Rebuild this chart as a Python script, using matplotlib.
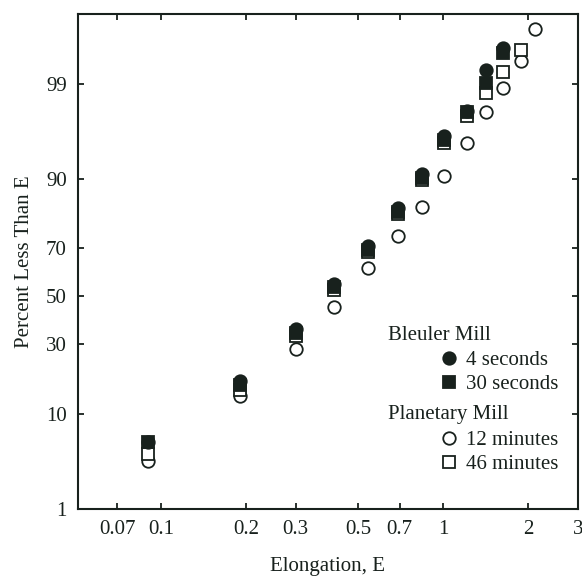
import numpy as np
import matplotlib
matplotlib.use("Agg")
import matplotlib.pyplot as plt
from matplotlib.ticker import FixedLocator, FixedFormatter, NullLocator
from statistics import NormalDist

# Elongation bins (E) and cumulative percent less than E for each grind
elongation = [0.09, 0.19, 0.30, 0.41, 0.54, 0.69, 0.84, 1.01, 1.21, 1.42, 1.63, 1.89, 2.12]
bleuler_4s = [5.6, 17.7, 36.0, 55.6, 71.1, 83.4, 91.0, 96.0, 97.9, 99.34, 99.67]
bleuler_30s = [5.5, 16.6, 34.3, 53.9, 69.6, 82.3, 90.3, 95.7, 97.8, 99.03, 99.61]
planetary_12m = [3.6, 13.7, 28.1, 45.2, 62.4, 74.4, 83.7, 90.7, 95.3, 97.8, 98.88, 99.50, 99.83]
planetary_46m = [4.2, 15.2, 33.1, 53.0, 68.8, 81.5, 89.9, 95.3, 97.6, 98.70, 99.30, 99.65]

x_ticks = [0.07, 0.1, 0.2, 0.3, 0.5, 0.7, 1, 2, 3]
x_ticklabels = ["0.07", "0.1", "0.2", "0.3", "0.5", "0.7", "1", "2", "3"]
y_ticks = [1, 10, 30, 50, 70, 90, 99]
y_ticklabels = ["1", "10", "30", "50", "70", "90", "99"]

INK = "#18211d"
FONT = "Liberation Serif"
FS = 15

_nd = NormalDist()
_ppf = np.vectorize(_nd.inv_cdf, otypes=[float])
_cdf = np.vectorize(_nd.cdf, otypes=[float])


def probit(p):
    """Percent -> standard normal quantile (probability paper)."""
    q = np.clip(np.asarray(p, dtype=float) / 100.0, 1e-9, 1 - 1e-9)
    return _ppf(q)


def inv_probit(z):
    return _cdf(np.asarray(z, dtype=float)) * 100.0


plt.rcParams["font.family"] = [FONT, "DejaVu Serif"]

fig = plt.figure(figsize=(5.82, 5.76), dpi=100)
ax = fig.add_axes([0.134, 0.1163, 0.859, 0.8594])

ax.set_xscale("log")
ax.set_yscale("function", functions=(probit, inv_probit))

common = dict(linestyle="none", markeredgecolor=INK, markeredgewidth=1.3)
h12, = ax.plot(elongation[:len(planetary_12m)], planetary_12m, marker="o",
               markersize=9, markerfacecolor="white", label="12 minutes", **common)
h46, = ax.plot(elongation[:len(planetary_46m)], planetary_46m, marker="s",
               markersize=8, markerfacecolor="white", label="46 minutes", **common)
h4, = ax.plot(elongation[:len(bleuler_4s)], bleuler_4s, marker="o",
              markersize=9, markerfacecolor=INK, label="4 seconds", **common)
h30, = ax.plot(elongation[:len(bleuler_30s)], bleuler_30s, marker="s",
               markersize=8, markerfacecolor=INK, label="30 seconds", **common)

ax.set_xlim(0.0508, 3)
ax.set_ylim(1, 99.9)

ax.xaxis.set_major_locator(FixedLocator(x_ticks))
ax.xaxis.set_major_formatter(FixedFormatter(x_ticklabels))
ax.xaxis.set_minor_locator(NullLocator())
ax.yaxis.set_major_locator(FixedLocator(y_ticks))
ax.yaxis.set_major_formatter(FixedFormatter(y_ticklabels))
ax.yaxis.set_minor_locator(NullLocator())

ax.tick_params(direction="in", top=True, right=True, length=4, width=1.3,
               labelsize=FS, color=INK, labelcolor=INK)
ax.tick_params(axis="x", pad=8)
ax.tick_params(axis="y", pad=8)
for sp in ax.spines.values():
    sp.set_linewidth(1.5)
    sp.set_color(INK)

ax.set_xlabel("Elongation, E", fontsize=FS, color=INK, labelpad=13)
ax.set_ylabel("Percent Less Than E", fontsize=FS, color=INK, labelpad=9)

# grouped legend: mill name headers with indented entries
leg_kw = dict(frameon=False, loc="upper left", fontsize=FS, handlelength=1.0,
              handletextpad=0.3, labelspacing=0.2, borderpad=0, borderaxespad=0,
              labelcolor=INK)
ax.text(0.62, 0.3515, "Bleuler Mill", transform=ax.transAxes, fontsize=FS,
        color=INK, va="center", ha="left")
leg1 = ax.legend(handles=[h4, h30], bbox_to_anchor=(0.721, 0.320), **leg_kw)
ax.add_artist(leg1)
ax.text(0.62, 0.19, "Planetary Mill", transform=ax.transAxes, fontsize=FS,
        color=INK, va="center", ha="left")
ax.legend(handles=[h12, h46], bbox_to_anchor=(0.721, 0.158), **leg_kw)

fig.savefig("out.png", dpi=100)
